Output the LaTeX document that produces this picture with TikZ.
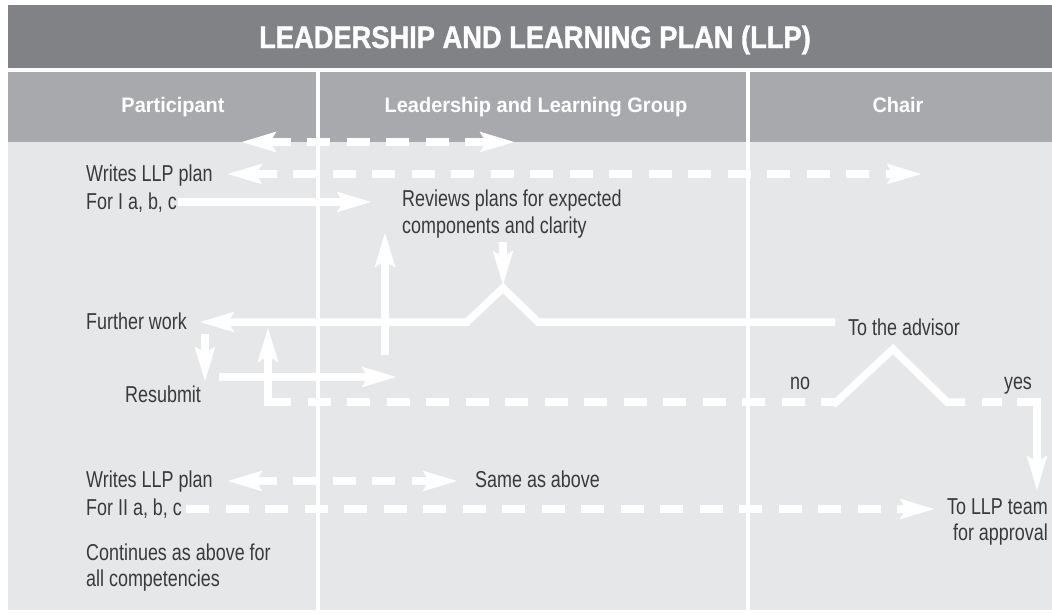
\documentclass[tikz,border=0pt]{standalone}
\usepackage{fontspec}
\setmainfont{Liberation Sans}
\newfontfamily\bodyfont[FakeStretch=0.78]{Liberation Sans}
\newfontfamily\headfont[FakeStretch=0.95]{Liberation Sans}
\newfontfamily\titlefont[FakeStretch=0.88,FakeBold=1.2]{Liberation Sans}
\usetikzlibrary{arrows.meta}
\definecolor{titlegray}{HTML}{808285}
\definecolor{headgray}{HTML}{A7A9AC}
\definecolor{bodygray}{HTML}{E6E7E8}
\definecolor{txtgray}{HTML}{3A3A3A}
\begin{document}
\begin{tikzpicture}[x=1pt,y=-1pt,
  flow/.style={draw=white, line width=7.5pt},
  dflow/.style={flow, dash pattern=on 23pt off 16.5pt},
  arrowend/.style={-{Stealth[length=34pt,width=19pt,inset=5pt]}},
  arrowboth/.style={{Stealth[length=34pt,width=19pt,inset=5pt]}-{Stealth[length=34pt,width=19pt,inset=5pt]}},
  lbl/.style={text=txtgray, font=\bodyfont\fontsize{23}{28}\selectfont, inner sep=0pt},
  headlbl/.style={text=white, font=\headfont\bfseries\fontsize{21}{25}\selectfont, inner sep=0pt, anchor=base},
  separator/.style={draw=white, line width=4pt}
]
% background and bands
\useasboundingbox (0,0) rectangle (1052,613);
\fill[white] (0,0) rectangle (1052,613);
\fill[titlegray] (8,5) rectangle (1052,68);
\fill[headgray] (8,72) rectangle (1052,142);
\fill[bodygray] (8,142) rectangle (1052,610);
\draw[separator] (318,72) -- (318,613);
\draw[separator] (748,72) -- (748,613);

% title and headers
\node[text=white, font=\titlefont\bfseries\fontsize{31}{35}\selectfont, inner sep=0pt, anchor=base] (title) at (535,48) {LEADERSHIP AND LEARNING PLAN (LLP)};
\node[headlbl] (hpart) at (173,112) {Participant};
\node[headlbl] (hllg) at (536,112) {Leadership and Learning Group};
\node[headlbl] (hchair) at (898,112) {Chair};

% texts
\node[lbl, anchor=base west] (write1) at (86,181) {Writes LLP plan};
\node[lbl, anchor=base west] (for1) at (86,209) {For I a, b, c};
\node[lbl, anchor=base west] (rev1) at (402,206) {Reviews plans for expected};
\node[lbl, anchor=base west] (rev2) at (402,233) {components and clarity};
\node[lbl, anchor=base west] (further) at (86,329) {Further work};
\node[lbl, anchor=base west] (resub) at (125,402) {Resubmit};
\node[lbl, anchor=base west] (advisor) at (848,335) {To the advisor};
\node[lbl, anchor=base] (no) at (800,389) {no};
\node[lbl, anchor=base] (yes) at (1018,389) {yes};
\node[lbl, anchor=base west] (write2) at (86,487) {Writes LLP plan};
\node[lbl, anchor=base west] (for2) at (86,515) {For II a, b, c};
\node[lbl, anchor=base west] (same) at (475,487) {Same as above};
\node[lbl, anchor=base east] (team1) at (1048,514) {To LLP team};
\node[lbl, anchor=base east] (team2) at (1048,540) {for approval};
\node[lbl, anchor=base west] (cont1) at (86,560) {Continues as above for};
\node[lbl, anchor=base west] (cont2) at (86,586) {all competencies};

% coordinates
\coordinate (a1l) at (241,142);
\coordinate (a1r) at (515,142);
\coordinate (a2l) at (227,174);
\coordinate (a2r) at (922,174);
\coordinate (a3s) at (178,202);
\coordinate (a3e) at (372,202);
\coordinate (upb) at (385,355);
\coordinate (upt) at (385,232);
\coordinate (dnt) at (503,242);
\coordinate (dnb) at (503,286);
\coordinate (mstart) at (835,322);
\coordinate (mr) at (538,322);
\coordinate (mpeak) at (503,288);
\coordinate (ml) at (467,322);
\coordinate (mend) at (199,322);
\coordinate (fwt) at (205,334);
\coordinate (fwb) at (205,382);
\coordinate (rs) at (219,377);
\coordinate (re) at (397,377);
\coordinate (nofoot) at (836,402);
\coordinate (nocorner) at (268,402);
\coordinate (notip) at (268,327);
\coordinate (hl) at (833,405);
\coordinate (hpeak) at (893,349);
\coordinate (hr) at (947,402);
\coordinate (hr2) at (965,402);
\coordinate (yd1) at (982,402);
\coordinate (yd2) at (1002,402);
\coordinate (yc0) at (1017,402);
\coordinate (yc) at (1037,402);
\coordinate (ytip) at (1037,491);
\coordinate (w2l) at (227,481);
\coordinate (w2r) at (458,481);
\coordinate (f2s) at (186,509);
\coordinate (f2e) at (935,509);

% connectors
\draw[dflow, arrowboth] (a1l) -- (a1r);
\draw[dflow, arrowboth] (a2l) -- (a2r);
\draw[flow, arrowend] (a3s) -- (a3e);
\draw[flow, arrowend] (upb) -- (upt);
\draw[flow, arrowend] (dnt) -- (dnb);
\draw[flow, arrowend] (mstart) -- (mr) -- (mpeak) -- (ml) -- (mend);
\draw[flow, arrowend] (fwt) -- (fwb);
\draw[flow, arrowend] (rs) -- (re);
\draw[dflow] (nocorner) -- (nofoot);
\draw[flow, arrowend] ([xshift=12pt]nocorner) -- (nocorner) -- (notip);
\draw[flow] (hl) -- (hpeak) -- (hr) -- (hr2);
\draw[flow] (yd1) -- (yd2);
\draw[flow, arrowend] (yc0) -- (yc) -- (ytip);
\draw[dflow, arrowboth] (w2l) -- (w2r);
\draw[dflow, arrowend] (f2s) -- (f2e);
\end{tikzpicture}
\end{document}
